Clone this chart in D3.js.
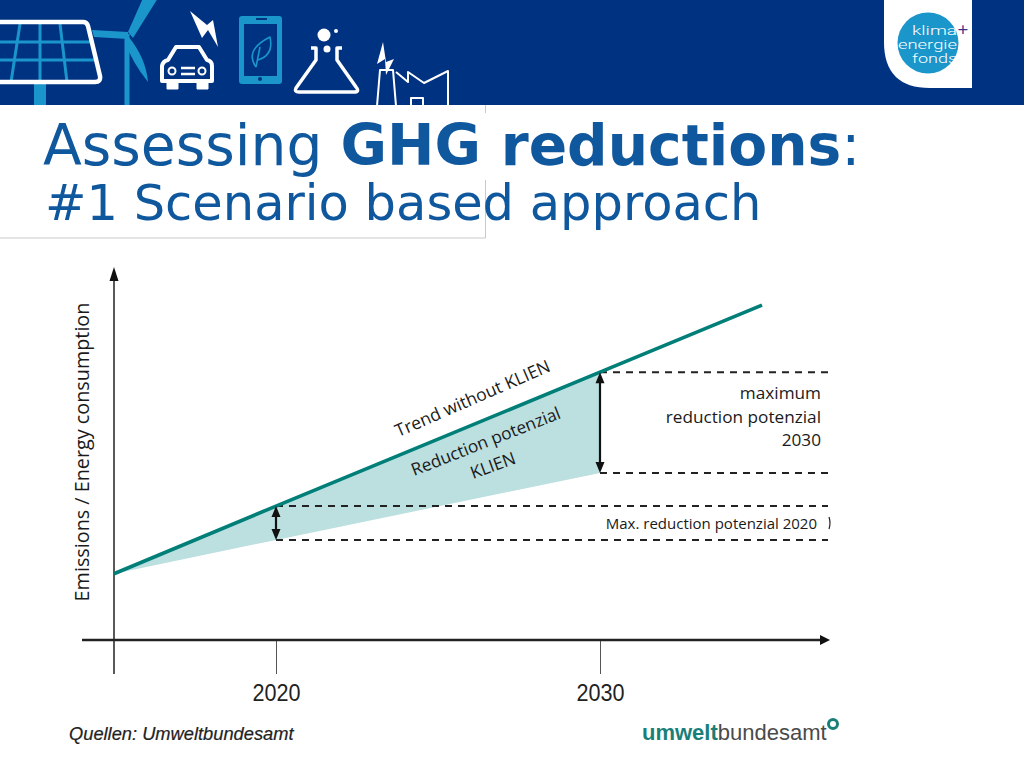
<!DOCTYPE html>
<html><head><meta charset="utf-8">
<style>html,body{margin:0;padding:0;background:#fff;overflow:hidden}svg{display:block}</style>
<script src="https://cdn.jsdelivr.net/npm/d3@7"></script></head>
<body><svg id="c" width="1024" height="768"></svg>
<script>
const years=[2015,2020,2030,2035];
const trend=[17.8,36,72,90];
const reducedYears=[2015,2020,2030];
const reduced=[17.8,26.9,44.9];
const tickYears=[2020,2030];
const dashedLevels=[72,44.9,36,26.9];
const title1="Assessing ",title2="GHG reductions",title3=":";
const subtitle="#1 Scenario based approach";
const yLabel="Emissions / Energy consumption";
const source="Quellen: Umweltbundesamt";

const svg=d3.select("#c");
const x=d3.scaleLinear().domain([2015,2035]).range([114,762]);
const y=d3.scaleLinear().domain([0,100]).range([640,268]);
const TEAL="#007f78",FILL="#bcdfe0",NAVY="#003282",CY="#1a96cb",TITLE="#10589e",INK="#1a1a1a";
const sans="'Open Sans','Noto Sans',sans-serif";

// header band
svg.append("rect").attr("width",1024).attr("height",105).attr("fill",NAVY);
const defs=svg.append("defs");
defs.append("clipPath").attr("id","hd").append("rect").attr("width",1024).attr("height",105);
const ic=svg.append("g").attr("clip-path","url(#hd)").attr("fill","none").attr("stroke-linejoin","round");
// solar panel
ic.append("rect").attr("x",34).attr("y",82).attr("width",12).attr("height",25).attr("fill",CY);
["M20 24L11 82","M40 24V82","M60 24L67 82","M0 42H90","M0 60H94"].forEach(d=>ic.append("path").attr("d",d).attr("stroke",CY).attr("stroke-width",3));
ic.append("path").attr("d","M-5 22H83Q87 22 88 26L100 76Q101 82 95 82H-5").attr("stroke","#fff").attr("stroke-width",4.5);
// wind turbine
ic.append("path").attr("d","M127 105V34").attr("stroke",CY).attr("stroke-width",5);
ic.append("path").attr("d","M128 32L143 -2H158L133 38Z").attr("fill",CY);
ic.append("path").attr("d","M92 30L128 32L128 39L94 37Z").attr("fill",CY);
ic.append("path").attr("d","M128 36Q146 58 148 82Q132 62 125 42Z").attr("fill",CY);
// car
ic.append("path").attr("d","M162 66Q163 61 168 60L176 47H199L207 60Q212 61 212 66V81H162Z").attr("stroke","#fff").attr("stroke-width",4);
ic.append("path").attr("d","M167 82H178V89H167ZM197 82H208V89H197Z").attr("fill","#fff").attr("stroke","#fff");
ic.append("path").attr("d","M181 68H195M181 74H195").attr("stroke","#fff").attr("stroke-width",2.5);
ic.selectAll(".w").data([[172,71],[202,71]]).join("circle").attr("cx",d=>d[0]).attr("cy",d=>d[1]).attr("r",3.5).attr("stroke","#fff").attr("stroke-width",2);
ic.append("path").attr("d","M190 11L207 25L213 20L218 47L208 30L202 38Z").attr("fill","#fff");
// tablet
ic.append("rect").attr("x",239).attr("y",16).attr("width",43).attr("height",68).attr("rx",3).attr("fill",CY);
ic.append("rect").attr("x",244).attr("y",24).attr("width",33).attr("height",52).attr("fill",NAVY);
ic.append("path").attr("d","M256 67Q244 50 270 37Q274 55 258 60M256 67L260 47").attr("stroke",CY).attr("stroke-width",1.6);
ic.append("path").attr("d","M256 19H267").attr("stroke",NAVY).attr("stroke-width",2);
ic.append("circle").attr("cx",260).attr("cy",79).attr("r",2).attr("fill",NAVY);
// flask
ic.append("path").attr("d","M311 48H316V60L296 88Q294 92 299 92H354Q360 92 356 87L337 60V48H342").attr("stroke","#fff").attr("stroke-width",3.5);
ic.selectAll(".b").data([[324,35,6.5],[336,31,2],[327,49,3.5]]).join("circle").attr("cx",d=>d[0]).attr("cy",d=>d[1]).attr("r",d=>d[2]).attr("fill","#fff");
// factory
ic.append("path").attr("d","M377 106L380 70H393L396 106M396 72L408 82V72L424 83L448 71V106M411 106V98H423V106").attr("stroke","#fff").attr("stroke-width",2);
ic.append("path").attr("d","M383 42L377 64L385 59L386 75L394 59L386 62Z").attr("fill","#fff");

// logo
svg.append("path").attr("d","M884 0H972V88H930Q884 88 884 42Z").attr("fill","#fff");
svg.append("circle").attr("cx",928).attr("cy",43).attr("r",30.5).attr("fill",CY);
const lg=svg.append("g").attr("font-family","'Roboto',sans-serif").attr("font-weight",300).attr("fill","#fff").attr("font-size",12);
[["klima",912,35,45],["energie",898,49,59],["fonds",912,63,45]].forEach(d=>
  lg.append("text").attr("x",d[1]).attr("y",d[2]).attr("textLength",d[3]).attr("lengthAdjust","spacingAndGlyphs").text(d[0]));
svg.append("text").attr("x",963).attr("y",36).attr("text-anchor","middle").attr("font-family",sans).attr("font-size",19).attr("fill","#3a2f8c").text("+");

// grey frame fragment
svg.append("path").attr("d","M0 238H485.5V180M485.5 113V105").attr("fill","none").attr("stroke","#c9c9c9").attr("stroke-width",1);

// titles
const tt=svg.append("text").attr("x",43).attr("y",165).attr("font-family","'DejaVu Sans',sans-serif").attr("font-size",56.7).attr("fill",TITLE);
tt.append("tspan").text(title1);
tt.append("tspan").attr("font-weight","bold").text(title2);
tt.append("tspan").text(title3);
svg.append("text").attr("x",45).attr("y",220).attr("font-family","'DejaVu Sans',sans-serif").attr("font-size",49.5).attr("fill",TITLE).text(subtitle);

// reduction wedge
const rows=reducedYears.map((yr,i)=>({yr,lo:reduced[i],hi:trend[years.indexOf(yr)]}));
svg.append("path").datum(rows).attr("fill",FILL)
  .attr("d",d3.area().x(d=>x(d.yr)).y0(d=>y(d.lo)).y1(d=>y(d.hi)));

// dashed guides
const guide=[[dashedLevels[0],2030],[dashedLevels[1],2030],[dashedLevels[2],2020],[dashedLevels[3],2020]];
svg.selectAll(".g").data(guide).join("line")
  .attr("x1",d=>x(d[1])).attr("x2",828).attr("y1",d=>y(d[0])).attr("y2",d=>y(d[0]))
  .attr("stroke","#222").attr("stroke-width",2).attr("stroke-dasharray","7 6");

// axes
const axis=d3.axisBottom(x).tickValues(tickYears).tickFormat(d3.format("d")).tickSize(34).tickSizeOuter(0);
const gx=svg.append("g").attr("transform",`translate(0,${y(0)})`).call(axis);
gx.select(".domain").remove();
gx.selectAll(".tick line").attr("stroke","#555").attr("stroke-width",1);
gx.selectAll(".tick text").attr("y",44).attr("dy","0.71em").attr("font-family","'Liberation Sans',sans-serif").attr("font-size",24).attr("fill","#222").attr("textLength",48).attr("lengthAdjust","spacingAndGlyphs");
svg.append("line").attr("x1",82).attr("x2",822).attr("y1",y(0)).attr("y2",y(0)).attr("stroke","#222").attr("stroke-width",2.4);
svg.append("path").attr("d",`M830 ${y(0)}L820 ${y(0)-5}V${y(0)+5}Z`).attr("fill","#111");
svg.append("line").attr("x1",x(2015)).attr("x2",x(2015)).attr("y1",276).attr("y2",674).attr("stroke","#222").attr("stroke-width",1.5);
svg.append("path").attr("d",`M${x(2015)} 267L${x(2015)-4.5} 281H${x(2015)+4.5}Z`).attr("fill","#111");

// trend
const tr=years.map((yr,i)=>[x(yr),y(trend[i])]);
svg.append("path").attr("d",d3.line()(tr)).attr("fill","none").attr("stroke",TEAL).attr("stroke-width",3.6);

// double arrows
function dbl(xp,a,b){
  svg.append("line").attr("x1",xp).attr("x2",xp).attr("y1",a+5).attr("y2",b-5).attr("stroke","#111").attr("stroke-width",2.2);
  svg.append("path").attr("d",`M${xp} ${a}L${xp-4.5} ${a+11}H${xp+4.5}Z M${xp} ${b}L${xp-4.5} ${b-11}H${xp+4.5}Z`).attr("fill","#111");
}
dbl(x(2030),y(72),y(44.9));
dbl(x(2020),y(36),y(26.9));

// text labels
const lab=(t,px,py,fs,an,rot)=>svg.append("text").attr("transform",`translate(${px},${py}) rotate(${rot||0})`).attr("text-anchor",an||"start").attr("font-family",sans).attr("font-size",fs).attr("fill",INK).text(t);
lab(yLabel,89,452,19.8,"middle",-90);
lab("Trend without KLIEN",475,404,17.5,"middle",-23.5);
lab("Reduction potenzial",488,447,17.2,"middle",-21.5);
lab("KLIEN",495,471,17.2,"middle",-20);
lab("maximum",821,399,17.2,"end");
lab("reduction potenzial",821,423,17.2,"end");
lab("2030",821,446,17.2,"end");
lab("Max. reduction potenzial 2020",817,529,15,"end");
svg.append("path").attr("d","M829 517Q831 523 829 529").attr("fill","none").attr("stroke","#222").attr("stroke-width",1.2);

// source
svg.append("text").attr("x",69).attr("y",740).attr("font-family","'Liberation Sans',sans-serif").attr("font-style","italic").attr("font-size",18.3).attr("fill","#222").attr("stroke","#222").attr("stroke-width",0.2).text(source);
const ub=svg.append("text").attr("x",642).attr("y",740).attr("font-family","'Liberation Sans',sans-serif").attr("font-size",22);
ub.append("tspan").attr("font-weight","bold").attr("fill","#1a7f78").text("umwelt");
ub.append("tspan").attr("fill","#4a4a4a").text("bundesamt");
svg.append("circle").attr("cx",833).attr("cy",724).attr("r",4.5).attr("fill","none").attr("stroke","#1a7f78").attr("stroke-width",3);
</script></body></html>
